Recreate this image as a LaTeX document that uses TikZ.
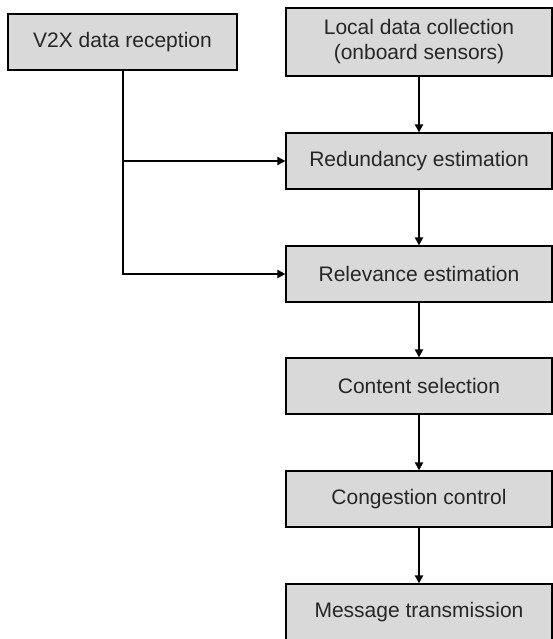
\documentclass[tikz,border=0pt]{standalone}
\usepackage{fontspec}
\setmainfont{Liberation Sans}
\usetikzlibrary{arrows.meta}
\begin{document}
\begin{tikzpicture}[x=1pt,y=-1pt,
  box/.style={draw=black,line width=1.2pt,fill=boxgray,inner sep=0pt,align=center,
    font=\fontsize{21}{25}\selectfont,text=black!85},
  arr/.style={line width=2pt,-{Triangle[length=8pt,width=8pt]}}]
\definecolor{boxgray}{HTML}{D9D9D9}
\useasboundingbox (0,0) rectangle (553,639);
\node[box,minimum width=229pt,minimum height=56pt] (v2x) at (122.5,42) {V2X data reception};
\node[box,minimum width=266pt,minimum height=68pt] (loc) at (419,42) {Local data collection\\(onboard sensors)};
\node[box,minimum width=266pt,minimum height=56pt] (red) at (419,161) {Redundancy estimation};
\node[box,minimum width=266pt,minimum height=56pt] (rel) at (419,274) {Relevance estimation};
\node[box,minimum width=266pt,minimum height=56pt] (con) at (419,386) {Content selection};
\node[box,minimum width=266pt,minimum height=56pt] (cgc) at (419,499) {Congestion control};
\node[box,minimum width=266pt,minimum height=56pt] (msg) at (419,612) {Message transmission};
\draw[arr] (loc) -- (red);
\draw[arr] (red) -- (rel);
\draw[arr] (rel) -- (con);
\draw[arr] (con) -- (cgc);
\draw[arr] (cgc) -- (msg);
\draw[arr] (v2x.south) |- (rel.west);
\draw[arr] (v2x.south |- red.west) -- (red.west);
\end{tikzpicture}
\end{document}
